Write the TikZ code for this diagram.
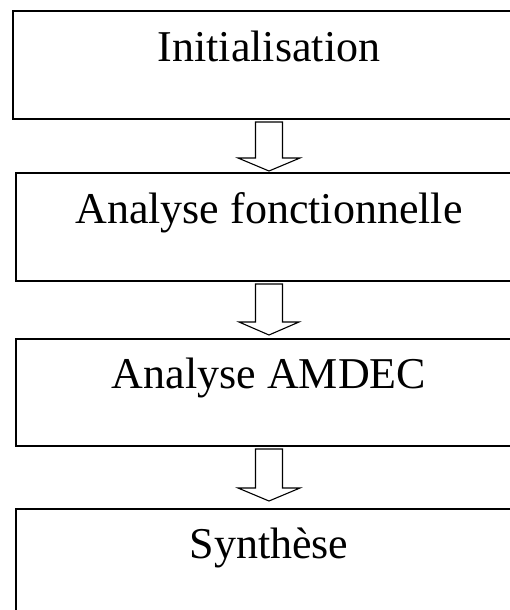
\documentclass[tikz,border=0pt]{standalone}
\usepackage{fontspec}
\setmainfont{Liberation Serif}
\usetikzlibrary{calc}
\tikzset{
  box/.style={draw, line width=2pt, rectangle, anchor=north west, inner sep=0pt},
  lbl/.style={anchor=base, inner sep=0pt, font=\fontsize{44}{50}\selectfont},
  arr/.style={draw, line width=1.1pt, line join=miter}
}
\begin{document}
\begin{tikzpicture}[x=1pt, y=-1pt]
\useasboundingbox (0,0) rectangle (510,610);
\clip (0,0) rectangle (510,610);
\node[box, minimum width=512pt, minimum height=108pt] (b1) at (12,10) {};
\node[box, minimum width=506pt, minimum height=108pt] (b2) at (15,172) {};
\node[box, minimum width=506pt, minimum height=107pt] (b3) at (15,338) {};
\node[box, minimum width=506pt, minimum height=108pt] (b4) at (15,508) {};
\node[lbl] (t1) at ($(b1.north)+(0,52)$) {Initialisation};
\node[lbl] (t2) at ($(b2.north)+(0,51)$) {Analyse fonctionnelle};
\node[lbl] (t3) at ($(b3.north)+(0,50)$) {Analyse AMDEC};
\node[lbl] (t4) at ($(b4.north)+(0,50)$) {Synthèse};
% arrows
\draw[arr] ($(b1.south)+(-13.5,2)$) -- ($(b2.north)+(-13.5,-14)$) -- ($(b2.north)+(-31,-14)$)
  -- ($(b2.north)+(0,-1)$) -- ($(b2.north)+(31,-14)$) -- ($(b2.north)+(13.5,-14)$)
  -- ($(b1.south)+(13.5,2)$) -- cycle;
\draw[arr] ($(b2.south)+(-13.5,2)$) -- ($(b3.north)+(-13.5,-16)$) -- ($(b3.north)+(-30,-16)$)
  -- ($(b3.north)+(0,-3)$) -- ($(b3.north)+(30,-16)$) -- ($(b3.north)+(13.5,-16)$)
  -- ($(b2.south)+(13.5,2)$) -- cycle;
\draw[arr] ($(b3.south)+(-13.5,2)$) -- ($(b4.north)+(-13.5,-20)$) -- ($(b4.north)+(-31,-20)$)
  -- ($(b4.north)+(0,-7)$) -- ($(b4.north)+(31,-20)$) -- ($(b4.north)+(13.5,-20)$)
  -- ($(b3.south)+(13.5,2)$) -- cycle;
\end{tikzpicture}
\end{document}
